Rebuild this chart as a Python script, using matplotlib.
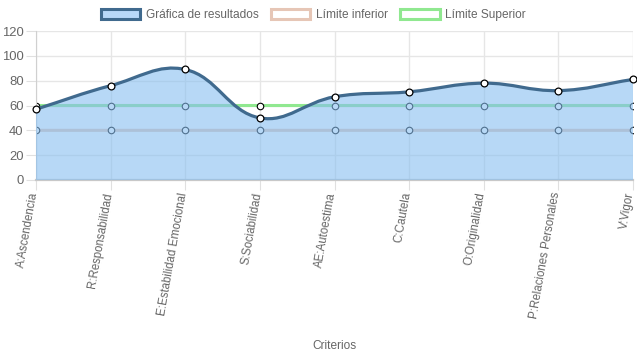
import numpy as np
import matplotlib
matplotlib.use("Agg")
import matplotlib.pyplot as plt
import matplotlib.transforms as mtransforms
from matplotlib.path import Path
from matplotlib.patches import PathPatch, Patch

plt.rcParams['font.family'] = ['Liberation Sans', 'DejaVu Sans']

categories = ["A:Ascendencia", "R:Responsabilidad", "E:Estabilidad Emocional",
              "S:Sociabilidad", "AE:Autoestima", "C:Cautela", "O:Originalidad",
              "P:Relaciones Personales", "V:Vigor"]
resultados = [57, 76, 89, 50, 67, 71, 78, 72, 81]
limite_inferior = [40, 40, 40, 40, 40, 40, 40, 40, 40]
limite_superior = [60, 60, 60, 60, 60, 60, 60, 60, 60]
yticks = [0, 20, 40, 60, 80, 100, 120]

W, H = 637, 359
fig = plt.figure(figsize=(W / 100, H / 100), dpi=100)
L, R, T, B = 36, 633, 31, 180
ax = fig.add_axes([L / W, 1 - B / H, (R - L) / W, (B - T) / H])

n = len(categories)
x = np.arange(n, dtype=float)
ax.set_xlim(0, n - 1)
ax.set_ylim(0, 120)

sx = (R - L) / (n - 1)
sy = (B - T) / 120.0


def spline_path(xs, ys, tension=0.4):
    P = np.column_stack([np.asarray(xs) * sx, np.asarray(ys, float) * sy])
    m = len(P)
    cprev = np.zeros_like(P)
    cnext = np.zeros_like(P)
    for i in range(m):
        prev = P[i - 1] if i > 0 else P[i]
        nxt = P[i + 1] if i < m - 1 else P[i]
        cur = P[i]
        d01 = np.hypot(*(cur - prev))
        d12 = np.hypot(*(nxt - cur))
        tot = d01 + d12
        s01 = d01 / tot if tot else 0
        s12 = d12 / tot if tot else 0
        fa, fb = tension * s01, tension * s12
        cprev[i] = cur - fa * (nxt - prev)
        cnext[i] = cur + fb * (nxt - prev)
    for c in (cprev, cnext):
        c[:, 1] = np.clip(c[:, 1], 0, 120 * sy)
    verts = [P[0]]
    codes = [Path.MOVETO]
    for i in range(m - 1):
        verts += [cnext[i], cprev[i + 1], P[i + 1]]
        codes += [Path.CURVE4] * 3
    verts = np.array(verts)
    verts[:, 0] /= sx
    verts[:, 1] /= sy
    return verts, codes


# grid
ax.set_axisbelow(True)
ax.grid(True, color='#e6e6e6', linewidth=1, zorder=0)
ax.set_yticks(yticks)
ax.set_xticks(x)
ax.set_xticklabels(categories, rotation=80, ha='right', va='center',
                   rotation_mode='anchor', fontsize=8.3, color='#666666')
ax.tick_params(axis='x', length=7, color='#e0e0e0', pad=2)
ax.tick_params(axis='y', length=7, color='#e0e0e0', pad=2, labelsize=9.4,
               labelcolor='#666666')
labs = ax.get_xticklabels()
for i, lab in enumerate(labs):
    dx = -2 if i < len(labs) - 1 else -3
    off = mtransforms.ScaledTranslation(dx / 100, 0, fig.dpi_scale_trans)
    lab.set_transform(lab.get_transform() + off)
for s in ('top', 'right'):
    ax.spines[s].set_visible(False)
ax.spines['left'].set_color('#d0d0d0')
ax.spines['bottom'].set_color('#c8c8c8')
ax.spines['bottom'].set_linewidth(1.6)

col_res = '#406a8e'
col_fill = (135 / 255, 190 / 255, 240 / 255, 0.6)
col_inf = '#e6c6b6'
col_sup = '#90e890'

# limit lines (under fill)
for vals, col in ((limite_inferior, col_inf), (limite_superior, col_sup)):
    v, c = spline_path(x, vals)
    ax.add_patch(PathPatch(Path(v, c), facecolor='none', edgecolor=col,
                           linewidth=2.2, zorder=2))
    ax.scatter(x, vals, s=22, facecolor='white', edgecolor='black',
               linewidth=0.8, zorder=2.5)

# result fill + line
v, c = spline_path(x, resultados)
fv = np.vstack([v, [[n - 1, 0], [0, 0], [0, 0]]])
fc = list(c) + [Path.LINETO, Path.LINETO, Path.CLOSEPOLY]
ax.add_patch(PathPatch(Path(fv, fc), facecolor=col_fill, edgecolor='none',
                       zorder=3))
ax.add_patch(PathPatch(Path(v, c), facecolor='none', edgecolor=col_res,
                       linewidth=2.3, zorder=4, capstyle='round'))
ax.scatter(x, resultados, s=24, facecolor='white', edgecolor='black',
           linewidth=0.9, zorder=5, clip_on=False)

# legend
handles = [Patch(facecolor='#b8d8f8', edgecolor=col_res, linewidth=2.2),
           Patch(facecolor='white', edgecolor=col_inf, linewidth=2.2),
           Patch(facecolor='white', edgecolor=col_sup, linewidth=2.2)]
labels = ["Gráfica de resultados", "Límite inferior", "Límite Superior"]
leg = fig.legend(handles, labels, loc='center', bbox_to_anchor=(0.492, 1 - 15 / H),
                 ncol=3, frameon=False, fontsize=8.6, handlelength=3.3,
                 handleheight=1.0, handletextpad=0.5, columnspacing=1.0,
                 borderaxespad=0)
for t in leg.get_texts():
    t.set_color('#666666')

fig.text(334 / W, 1 - 346 / H, "Criterios", ha='center', va='center',
         fontsize=8.6, color='#666666')

fig.savefig('out.png', dpi=100)
